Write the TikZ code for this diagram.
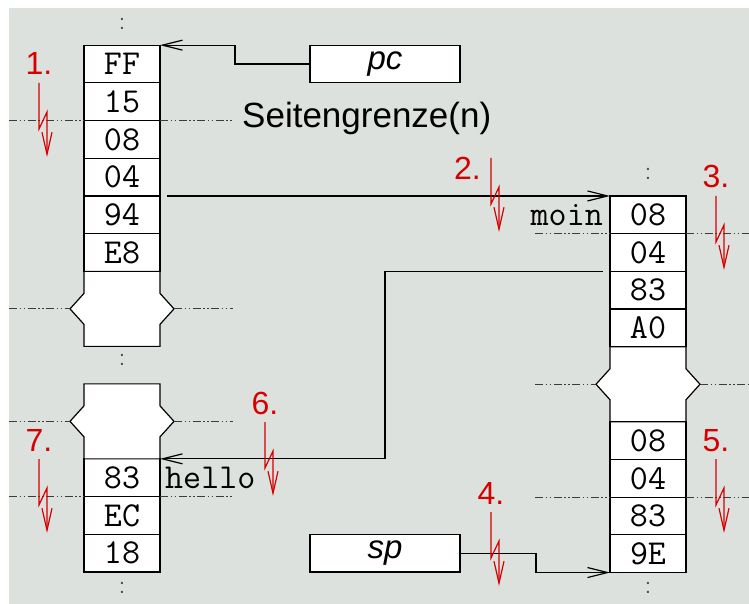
\documentclass[tikz,border=0pt]{standalone}
\usepackage{fontspec}
\setsansfont{Liberation Sans}
\usetikzlibrary{arrows.meta, positioning}
\definecolor{slidegray}{HTML}{DDE1DD}
\definecolor{flashred}{HTML}{D50000}
\definecolor{sepgray}{HTML}{3C3C3C}
\definecolor{dotgray}{HTML}{505050}

% outline of a cut-off memory region, notches pointing outwards
\newcommand{\cutblock}[1]{%
  \filldraw[cellline] (#1.north west) -- ([yshift=-22pt]#1.north west)
    -- ([xshift=-14pt]#1.west) -- ([yshift=22pt]#1.south west)
    -- (#1.south west) -- (#1.south east) -- ([yshift=22pt]#1.south east)
    -- ([xshift=14pt]#1.east) -- ([yshift=-22pt]#1.north east)
    -- (#1.north east) -- cycle;}

\begin{document}
\begin{tikzpicture}[
    x=1pt, y=-1pt,
    node distance=0pt,
    cellline/.style={draw=black, fill=white, line width=1.2pt},
    cell/.style={cellline, outer sep=0pt, inner sep=0pt,
                 minimum width=76pt, minimum height=37.7pt,
                 font=\fontsize{35}{35}\selectfont\ttfamily},
    cut/.style={minimum width=76pt, minimum height=75pt, inner sep=0pt, outer sep=0pt},
    reg/.style={cellline, outer sep=0pt, inner sep=0pt,
                minimum width=150pt, minimum height=37.7pt,
                font=\fontsize{33}{33}\selectfont\sffamily\itshape},
    lbl/.style={inner sep=0pt, font=\fontsize{35}{35}\selectfont\ttfamily},
    note/.style={inner sep=0pt, font=\fontsize{35}{35}\selectfont\sffamily},
    num/.style={flashred, inner sep=0pt, font=\fontsize{32}{32}\selectfont\sffamily},
    dots/.style={dotgray, inner sep=0pt, font=\fontsize{21}{21}\selectfont\sffamily},
    ptr/.style={-{Straight Barb[length=20pt, width=10pt]}, line width=1.2pt},
    sep/.style={sepgray, line width=0.9pt,
                dash pattern=on 8pt off 2.5pt on 1.5pt off 2.5pt on 1.5pt off 2.5pt},
    flash/.pic={\draw[flashred, line width=1.2pt, -{Straight Barb[length=22pt, width=10pt]}]
                (0,0) -- (0,46) -- (8,29) -- (8,74);},
  ]
  \useasboundingbox (0,0) rectangle (749,604);
  \fill[slidegray] (9,8) rectangle (749,604);

  % left memory column
  \node[cell] (l1) at (122,64) {FF};
  \node[cell, below=of l1] (l2) {15};
  \node[cell, below=of l2] (l3) {08};
  \node[cell, below=of l3] (l4) {04};
  \node[cell, below=of l4] (l5) {94};
  \node[cell, below=of l5] (l6) {E8};
  \node[cut, below=of l6] (lcut) {};
  \node[cut, below=37.5pt of lcut] (lcutb) {};
  \node[cell, below=of lcutb] (m1) {83};
  \node[cell, below=of m1] (m2) {EC};
  \node[cell, below=of m2] (m3) {18};
  \cutblock{lcut}
  \cutblock{lcutb}

  % right memory column
  \node[cell, anchor=north west] (r1) at ([xshift=450pt]l4.south east) {08};
  \node[cell, below=of r1] (r2) {04};
  \node[cell, below=of r2] (r3) {83};
  \node[cell, below=of r3] (r4) {A0};
  \node[cut, below=of r4] (rcut) {};
  \node[cell, below=of rcut] (r5) {08};
  \node[cell, below=of r5] (r6) {04};
  \node[cell, below=of r6] (r7) {83};
  \node[cell, below=of r7] (r8) {9E};
  \cutblock{rcut}

  % registers
  \node[reg, right=150pt of l1] (pc) {pc};
  \node[reg, right=150pt of m3] (sp) {sp};

  % continuation dots
  \node[dots, above=15pt of l1] (dl1) {:};
  \node[dots, below=8pt of lcut] (dl2) {:};
  \node[dots, below=10pt of m3] (dl3) {:};
  \node[dots, above=16pt of r1] (dr1) {:};
  \node[dots, below=10pt of r8] (dr2) {:};

  % page boundaries
  \coordinate (lm) at (9,0);
  \coordinate (le) at (233,0);
  \coordinate (rs) at (535,0);
  \coordinate (re) at (749,0);
  \foreach \c in {l3, m2} {
    \draw[sep] (lm |- \c.north) -- (\c.north west);
    \draw[sep] (\c.north east) -- (le |- \c.north);
  }
  \foreach \c in {lcut, lcutb} {
    \draw[sep] (lm |- \c.west) -- ([xshift=-14pt]\c.west);
    \draw[sep] ([xshift=14pt]\c.east) -- (le |- \c.east);
  }
  \foreach \c in {r2, r7} {
    \draw[sep] (rs |- \c.north) -- (\c.north west);
    \draw[sep] (\c.north east) -- (re |- \c.north);
  }
  \draw[sep] (rs |- rcut.west) -- ([xshift=-14pt]rcut.west);
  \draw[sep] ([xshift=14pt]rcut.east) -- (re |- rcut.east);
  \node[note, anchor=base west] (seite) at ([xshift=9pt, yshift=-7pt]le |- l3.north) {Seitengrenze(n)};

  % labels
  \node[lbl, anchor=base east] (moin) at ([xshift=-7pt]r1.base west) {moin};
  \node[lbl, anchor=base west] (hello) at ([xshift=5pt]m1.base east) {hello};

  % pointers
  \draw[ptr] (pc.west) -- ++(-75,0) |- (l1.north east);
  \draw[ptr] (sp.east) -- ++(76,0) |- (r8.south west);
  \draw[ptr] ([xshift=7pt]l4.south east) -- (r1.north west);
  \draw[ptr] ([xshift=-7pt]r2.south west) -| ([xshift=225pt]m1.north east) -- (m1.north east);

  % faults
  \foreach \i/\x/\y in {1/39/83, 3/716/196, 4/491/512, 5/716/459, 6/265/422, 7/39/459} {
    \pic at (\x,\y) {flash};
    \node[num, anchor=base] (n\i) at ([yshift=8pt]\x,\y) {\i.};
  }
  \pic at (491,158) {flash};
  \node[num, anchor=base east] (n2) at ([xshift=-10pt, yshift=-22pt]491,158) {2.};
\end{tikzpicture}
\end{document}
